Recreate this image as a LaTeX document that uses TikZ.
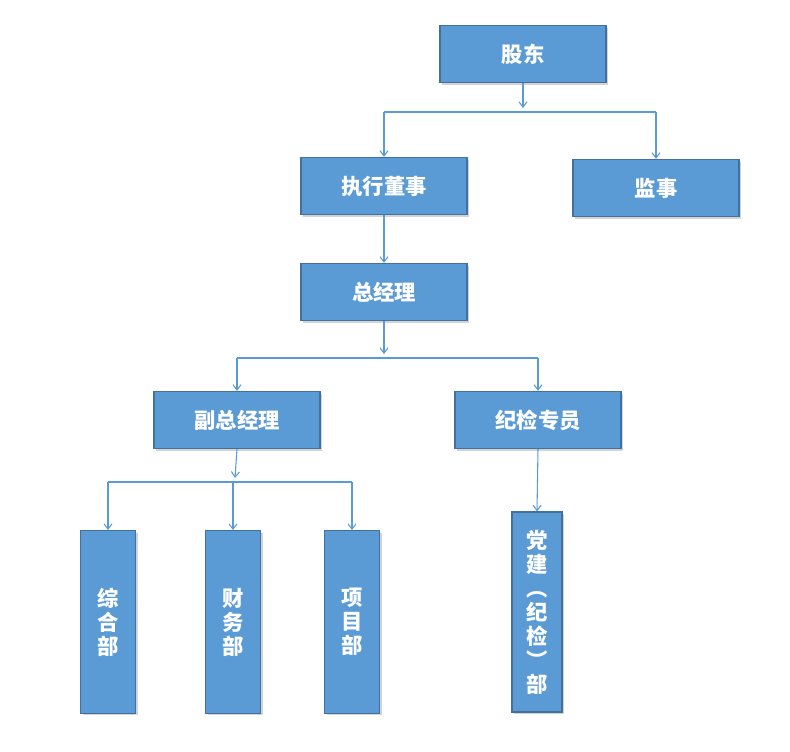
\documentclass[tikz,border=0pt]{standalone}
\usepackage{fontspec}
\newfontfamily\cjk{Noto Sans CJK SC}
\usetikzlibrary{arrows.meta,shadows}
\definecolor{boxfill}{RGB}{91,155,213}
\definecolor{boxline}{RGB}{65,113,156}
\definecolor{wire}{RGB}{91,155,213}
\tikzset{every picture/.style={line width=0.75pt}}
\tikzset{
  box/.style={draw=boxline, fill=boxfill, line width=0.9pt, text=white,
    font=\cjk\bfseries\fontsize{16}{18}\selectfont, inner sep=0pt,
    drop shadow={shadow xshift=1.5pt, shadow yshift=-1.5pt, opacity=0.35}},
  wide/.style={box, minimum width=124.5pt, minimum height=42.75pt},
  tall/.style={box, minimum width=41.25pt, minimum height=137pt, align=center},
  link/.style={draw=wire, line width=0.8pt},
  arr/.style={link, -{Straight Barb[length=4pt,width=6pt]}}
}
\begin{document}
\begin{tikzpicture}[x=0.75pt,y=0.75pt,yscale=-1,xscale=1]
    \useasboundingbox (0,0) rectangle (790,751);

    % boxes
    \node [wide] (gd) at (523,54) {股东};
    \node [wide] (dsh) at (384,186) {执行董事};
    \node [wide] (js) at (656,188) {监事};
    \node [wide] (zjl) at (384,292) {总经理};
    \node [wide] (fzjl) at (237,420) {副总经理};
    \node [wide] (jjzy) at (538,420) {纪检专员};
    \node [tall] (zhb) at (108,622) {综\\合\\部};
    \node [tall] (cwb) at (233,622) {财\\务\\部};
    \node [tall] (xmb) at (352,622) {项\\目\\部};
    \node [tall, minimum width=37.5pt, minimum height=150pt] (djb) at (537,612) {党\\建\\︵\\纪\\检\\︶\\部};

    % junctions
    \coordinate (j1) at (523,112);
    \coordinate (j2) at (384,358);
    \coordinate (j3) at (235,482);

    % connectors
    \draw [arr] (gd.south) -- ([yshift=-3pt]j1);
    \draw [link] (j1 -| dsh.north) -- (j1 -| js.north);
    \draw [arr] (j1 -| dsh.north) -- (dsh.north);
    \draw [arr] (j1 -| js.north) -- (js.north);
    \draw [arr] (dsh.south) -- (zjl.north);
    \draw [arr] (zjl.south) -- ([yshift=-3pt]j2);
    \draw [link] (j2 -| fzjl.north) -- (j2 -| jjzy.north);
    \draw [arr] (j2 -| fzjl.north) -- (fzjl.north);
    \draw [arr] (j2 -| jjzy.north) -- (jjzy.north);
    \draw [arr] (fzjl.south) -- ([yshift=-3pt]j3);
    \draw [link] (j3 -| zhb.north) -- (j3 -| xmb.north);
    \draw [arr] (j3 -| zhb.north) -- (zhb.north);
    \draw [arr] (j3 -| cwb.north) -- (cwb.north);
    \draw [arr] (j3 -| xmb.north) -- (xmb.north);
    \draw [arr] (jjzy.south) -- (djb.north);
\end{tikzpicture}
\end{document}
